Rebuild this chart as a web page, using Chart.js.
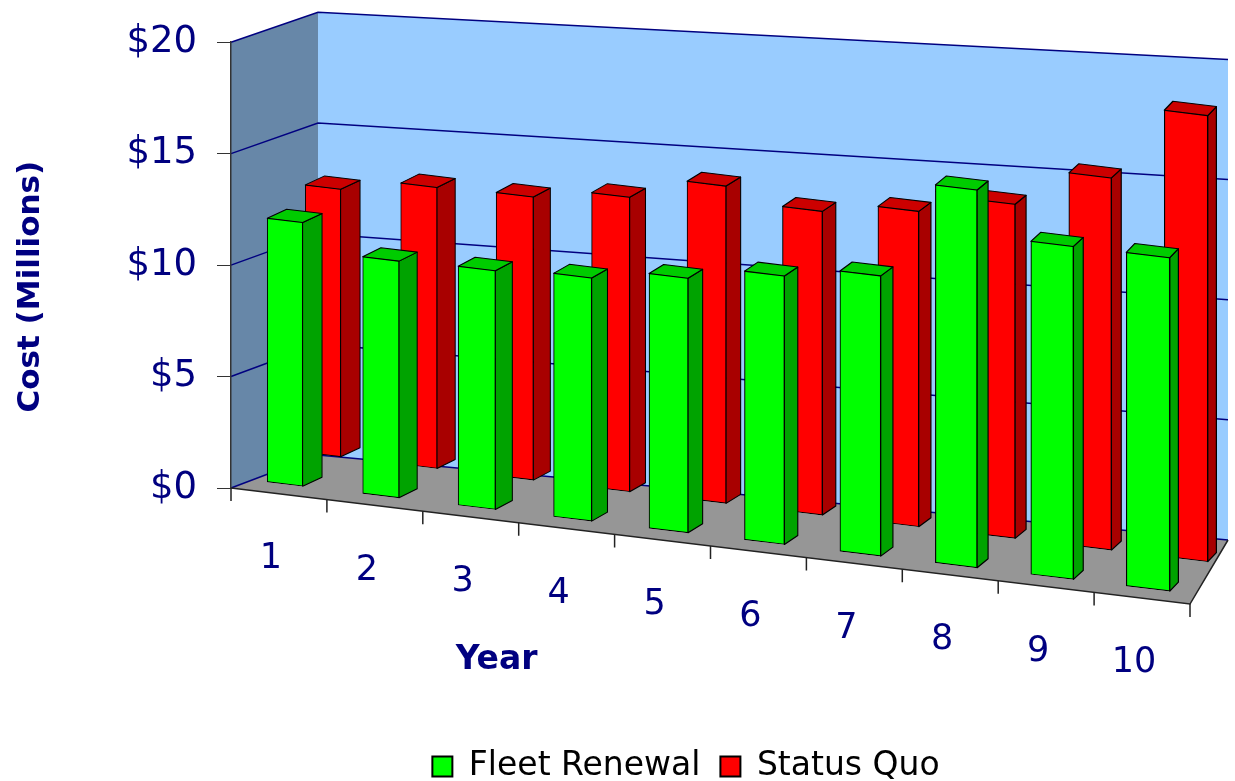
<!DOCTYPE html>
<html lang="en">
<head>
  <meta charset="UTF-8">
  <title>Fleet Renewal vs Status Quo</title>
  <script src="https://cdn.jsdelivr.net/npm/chart.js"></script>
  <style>
    html, body { margin: 0; padding: 0; background: #fff; }
  </style>
</head>
<body>
  <canvas id="costChart" width="1235" height="781"></canvas>

  <script>
    // data (millions of dollars)
    const years = ['1', '2', '3', '4', '5', '6', '7', '8', '9', '10'];
    const fleetRenewal = [11.8, 10.5, 10.5, 10.6, 11.0, 11.5, 11.9, 15.9, 13.9, 13.8];
    const statusQuo = [12.1, 12.6, 12.6, 13.0, 13.9, 13.2, 13.6, 14.3, 15.8, 18.8];
    const costTicks = ['$0', '$5', '$10', '$15', '$20'];

    const NAVY = '#000080';
    const FONT = '"DejaVu Sans", Verdana, sans-serif';

    // fake 3D look: floor slope, row offsets, growth to the right (perspective)
    const SLOPE = 0.121;
    const ROWS = [
      { dx: 6, dy: -10, grow0: 1.0, grow1: 0.09, side: '#00a300', top: '#00cc00' },
      { dx: 44, dy: -44, grow0: 0.99, grow1: 0.08, side: '#a80000', top: '#cc0000' }
    ];

    function poly(ctx, pts, fill, stroke) {
      ctx.beginPath();
      pts.forEach((p, i) => i ? ctx.lineTo(p[0], p[1]) : ctx.moveTo(p[0], p[1]));
      ctx.closePath();
      ctx.fillStyle = fill;
      ctx.fill();
      if (stroke) ctx.stroke();
    }

    function wallGeom(chart) {
      const a = chart.chartArea, y = chart.scales.y;
      const h = v => a.bottom - y.getPixelForValue(v);
      return {
        l: a.left + 87,
        r: chart.width - 7,
        yl: v => a.bottom - 33 - h(v) * 0.993,
        yr: v => a.bottom + 52 - h(v) * 1.078
      };
    }

    const fake3d = {
      id: 'fake3d',
      afterLayout(chart) {
        // legend sits right of centre and a bit lower in the original
        const lg = chart.legend;
        const shift = 686 - (lg.left + lg.right) / 2;
        lg.left += shift;
        lg.right += shift;
        lg.top += 16;
        lg.bottom += 16;
      },
      beforeDraw(chart) {
        const { ctx, chartArea: a, scales: { y } } = chart;
        const w = wallGeom(chart);
        const top = y.max;
        ctx.save();
        ctx.fillStyle = '#fff';
        ctx.fillRect(0, 0, chart.width, chart.height);
        const frontRight = [a.right, a.bottom + SLOPE * (a.right - a.left)];

        poly(ctx, [[a.left, a.bottom], [w.l, w.yl(0)], [w.l, w.yl(top)], [a.left, y.getPixelForValue(top)]], '#6787a8');
        poly(ctx, [[w.l, w.yl(0)], [w.r, w.yr(0)], [w.r, w.yr(top)], [w.l, w.yl(top)]], '#99ccff');
        poly(ctx, [[a.left, a.bottom], frontRight, [w.r, w.yr(0)], [w.l, w.yl(0)]], '#969696');

        ctx.strokeStyle = NAVY;
        ctx.lineWidth = 1.5;
        y.ticks.forEach(t => {
          ctx.beginPath();
          ctx.moveTo(a.left, y.getPixelForValue(t.value));
          ctx.lineTo(w.l, w.yl(t.value));
          ctx.lineTo(w.r, w.yr(t.value));
          ctx.stroke();
        });

        ctx.strokeStyle = '#222';
        ctx.beginPath();
        ctx.moveTo(a.left, a.bottom);
        ctx.lineTo(frontRight[0], frontRight[1]);
        ctx.lineTo(w.r, w.yr(0));
        ctx.stroke();
        ctx.restore();
      },
      beforeDatasetDraw(chart, args) {
        const { ctx, chartArea: a } = chart;
        const row = ROWS[args.index];
        ctx.save();
        ctx.transform(1, SLOPE, 0, 1, 0, -SLOPE * a.left);
        ctx.translate(row.dx, row.dy);
        ctx.strokeStyle = '#000';
        ctx.lineWidth = 1;
        ctx.lineJoin = 'round';
        args.meta.data.forEach(bar => {
          const { x, y, base, width } = bar.getProps(['x', 'y', 'base', 'width']);
          const t = (x - a.left) / (a.right - a.left);
          const sx = 0.97 + 0.25 * t;
          const sy = row.grow0 + row.grow1 * t;
          const depth = 20 - 12 * t;
          const dx = depth / sx;
          const dy = (-9 - SLOPE * depth) / sy;
          const L = x - width / 2, R = x + width / 2;
          ctx.save();
          ctx.translate(x, base);
          ctx.scale(sx, sy);
          ctx.translate(-x, -base);
          poly(ctx, [[R, y], [R + dx, y + dy], [R + dx, base + dy], [R, base]], row.side, true);
          poly(ctx, [[L, y], [L + dx, y + dy], [R + dx, y + dy], [R, y]], row.top, true);
          bar.draw(ctx, a);
          ctx.restore();
        });
        ctx.restore();
        return false;
      },
      afterDraw(chart) {
        const { ctx, chartArea: a, scales: { x } } = chart;
        const fy = px => a.bottom + SLOPE * (px - a.left);
        const step = (a.right - a.left) / years.length;
        ctx.save();
        ctx.strokeStyle = '#222';
        ctx.lineWidth = 1.5;
        ctx.beginPath();
        for (let i = 0; i <= years.length; i++) {
          const px = a.left + i * step;
          ctx.moveTo(px, fy(px));
          ctx.lineTo(px, fy(px) + 13);
        }
        ctx.stroke();

        ctx.fillStyle = NAVY;
        ctx.textAlign = 'center';
        ctx.textBaseline = 'middle';
        ctx.font = '35px ' + FONT;
        years.forEach((lab, i) => {
          const px = x.getPixelForValue(i) - 8;
          ctx.fillText(lab, px, fy(px) + 66);
        });
        ctx.font = 'bold 33px ' + FONT;
        ctx.fillText('Year', a.left + 0.277 * (a.right - a.left), a.bottom + 172);
        ctx.restore();
      }
    };

    new Chart(document.getElementById('costChart'), {
      type: 'bar',
      data: {
        labels: years,
        datasets: [
          {
            label: 'Fleet Renewal',
            data: fleetRenewal,
            backgroundColor: '#00ff00',
            borderColor: '#000',
            borderWidth: 1,
            borderSkipped: false,
            grouped: false,
            barThickness: 36
          },
          {
            label: 'Status Quo',
            data: statusQuo,
            backgroundColor: '#ff0000',
            borderColor: '#000',
            borderWidth: 1,
            borderSkipped: false,
            grouped: false,
            barThickness: 36
          }
        ]
      },
      options: {
        responsive: false,
        animation: false,
        layout: { padding: { left: 0, right: 45, top: 40, bottom: 4 } },
        plugins: {
          legend: {
            position: 'bottom',
            labels: {
              color: '#000',
              font: { family: FONT, size: 33 },
              boxWidth: 20,
              boxHeight: 20,
              padding: 20,
              generateLabels: chart => Chart.defaults.plugins.legend.labels.generateLabels(chart)
                .map(item => Object.assign(item, { lineWidth: 2 }))
            }
          },
          tooltip: { enabled: false }
        },
        scales: {
          x: {
            ticks: { display: false },
            grid: { display: false },
            border: { display: false },
            afterFit: s => { s.height = s.chart.height - 4 - s.chart.legend.height - 488; }
          },
          y: {
            min: 0,
            max: 20,
            ticks: {
              stepSize: 5,
              callback: (v, i) => costTicks[i],
              color: NAVY,
              font: { family: FONT, size: 37 },
              padding: 20
            },
            grid: { drawOnChartArea: false, tickLength: 14, color: '#333' },
            border: { color: '#333', width: 1.5 },
            title: {
              display: true,
              text: 'Cost (Millions)    ',
              color: NAVY,
              font: { family: FONT, size: 31, weight: 'bold' },
              padding: { top: 12, bottom: 0 }
            },
            afterFit: s => { s.width = 231; }
          }
        }
      },
      plugins: [fake3d]
    });
  </script>
</body>
</html>
